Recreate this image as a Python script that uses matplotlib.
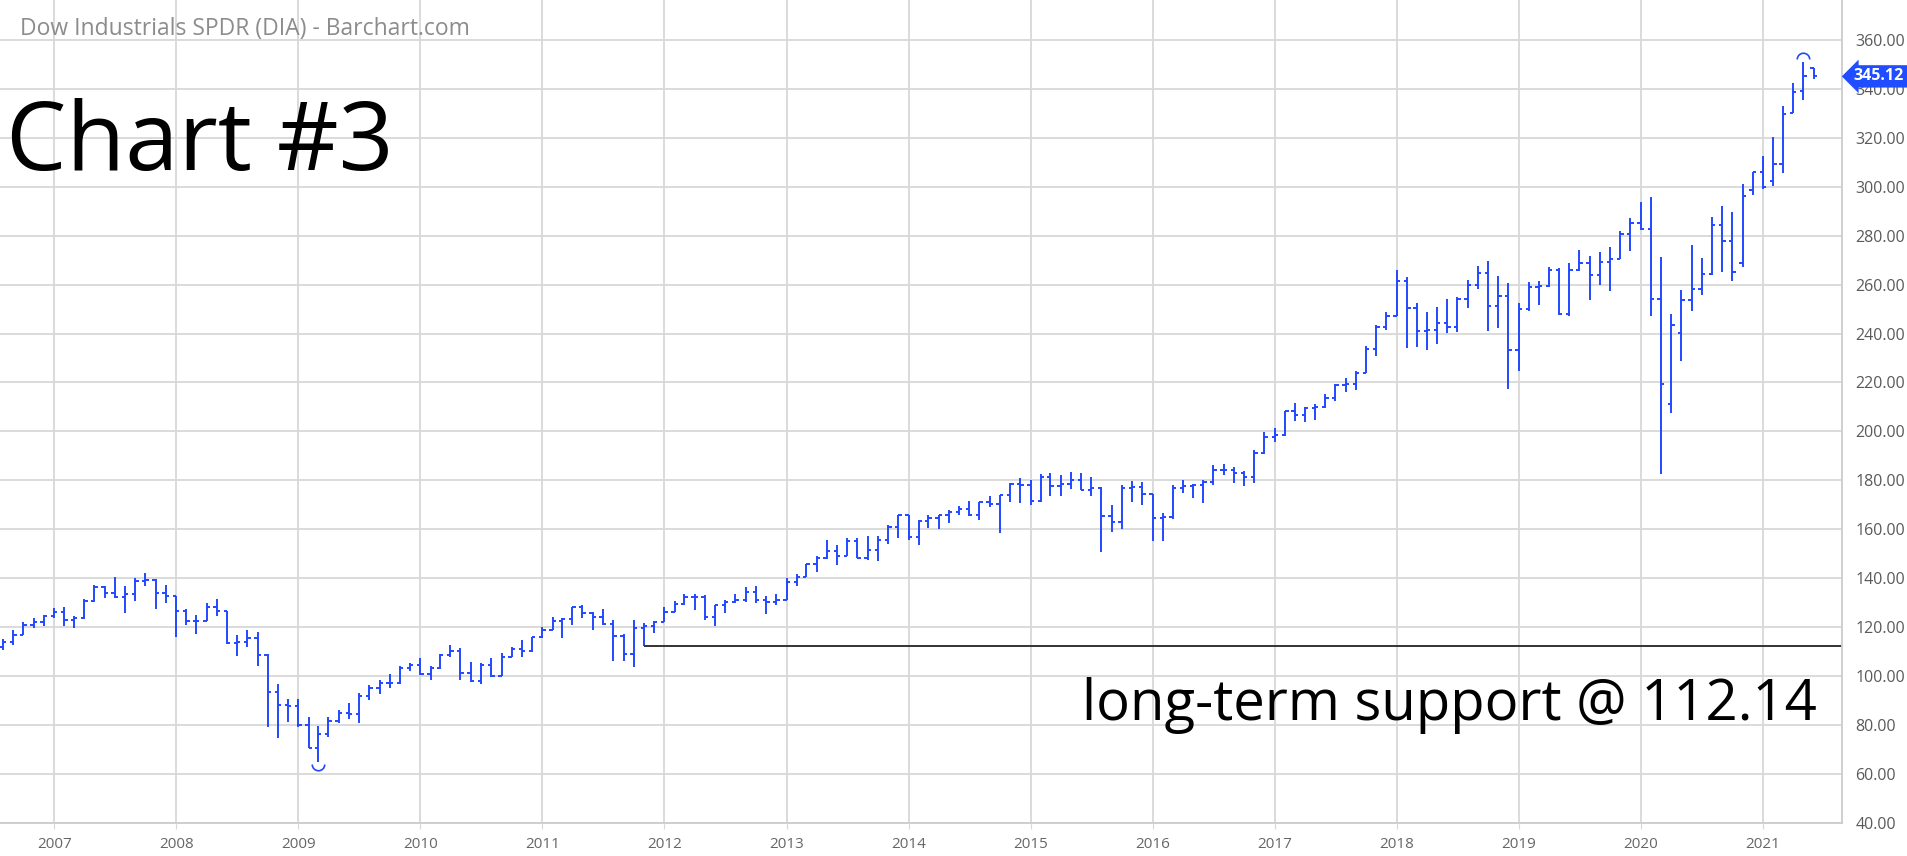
import numpy as np
import pandas as pd
import matplotlib
matplotlib.use("Agg")
import matplotlib.pyplot as plt
import matplotlib.dates as mdates
import matplotlib.transforms as mtransforms
from matplotlib.path import Path

plt.rcParams['font.family'] = ['Open Sans', 'DejaVu Sans']

# monthly bars, Aug 2006 .. Jun 2021
months = pd.date_range('2006-08-01', '2021-06-01', freq='MS')

opens = [
    111.85, 113.81, 116.79, 120.81, 122.21,
    124.63, 126.22, 122.69, 123.54, 130.63, 136.28, 134.09, 132.12, 133.58, 138.96, 139.30, 133.72,
    132.65, 126.50, 122.66, 122.63, 128.20, 126.38, 113.50, 113.78, 115.44, 108.51, 93.25, 88.29,
    87.76, 80.01, 70.63, 76.09, 81.68, 85.00, 84.47, 91.72, 94.96, 97.12, 97.13, 103.45,
    104.28, 100.67, 103.25, 108.57, 110.09, 101.37, 97.74, 104.66, 100.15, 107.88, 111.18, 110.06,
    115.78, 118.92, 122.26, 123.20, 128.11, 125.70, 124.14, 121.43, 116.14, 109.13, 119.55, 120.46,
    122.18, 126.33, 129.52, 132.12, 132.14, 123.93, 128.80, 130.09, 130.91, 134.37, 130.96, 130.26,
    131.04, 138.61, 140.54, 145.79, 148.40, 151.16, 149.10, 155.00, 148.10, 151.30, 155.46, 160.86,
    165.77, 156.99, 163.22, 164.58, 165.81, 167.17, 168.27, 165.63, 170.98, 170.43, 173.91, 178.28,
    178.23, 171.65, 181.33, 177.76, 178.41, 180.11, 176.20, 176.90, 165.28, 162.85, 176.64, 177.20,
    174.25, 164.66, 165.17, 176.85, 177.74, 177.87, 179.30, 184.32, 184.01, 183.08, 181.42, 191.24,
    197.63, 198.64, 208.12, 206.63, 209.41, 210.09, 213.50, 218.91, 219.48, 224.05, 233.77, 242.72,
    247.19, 261.49, 250.29, 241.03, 241.63, 244.16, 242.71, 254.15, 259.65, 264.58, 251.16, 255.38,
    233.27, 249.99, 259.16, 259.29, 265.93, 248.15, 266.00, 268.64, 264.03, 269.17, 270.46, 280.51,
    285.38, 282.56, 254.09, 211.00, 240.10, 253.83, 258.13, 264.28, 284.30, 277.82, 268.70, 298.50,
    306.06, 302.40, 309.50, 330.30, 339.30, 348.70,
]
highs = [
    115.2, 118.7, 122.0, 123.6, 125.1,
    127.7, 128.0, 124.4, 131.6, 137.0, 136.9, 140.6, 136.6, 140.0, 142.0, 139.5, 137.0,
    132.8, 127.5, 124.8, 130.0, 131.4, 126.4, 116.7, 118.8, 118.0, 108.8, 96.7, 90.6,
    90.6, 83.3, 79.5, 83.2, 86.0, 88.8, 92.9, 96.2, 98.3, 100.9, 104.1, 105.2,
    107.3, 104.0, 109.0, 112.6, 111.3, 105.8, 105.4, 107.2, 109.5, 112.0, 114.5, 116.0,
    120.0, 123.9, 123.8, 128.3, 128.8, 126.0, 127.5, 122.9, 117.0, 122.9, 121.8, 122.6,
    128.3, 130.5, 133.3, 133.4, 133.1, 129.0, 131.0, 133.3, 136.5, 136.6, 132.6, 133.5,
    140.2, 141.5, 145.9, 149.0, 155.4, 153.5, 156.6, 156.6, 157.1, 157.1, 161.8, 166.0,
    165.9, 163.9, 165.9, 166.0, 168.0, 169.6, 171.6, 171.2, 173.5, 174.0, 179.0, 180.8,
    180.0, 182.4, 182.9, 182.3, 183.5, 183.0, 181.4, 177.1, 169.8, 177.9, 179.8, 179.2,
    174.3, 166.6, 177.9, 180.0, 178.4, 180.0, 186.1, 186.7, 185.4, 183.9, 192.4, 199.9,
    201.3, 208.2, 211.7, 209.8, 211.0, 215.3, 219.2, 221.8, 224.6, 234.9, 243.3, 248.8,
    265.8, 263.2, 252.6, 248.6, 250.9, 254.0, 254.9, 261.7, 267.7, 269.5, 263.6, 260.5,
    252.3, 261.0, 261.5, 267.0, 266.7, 269.0, 274.1, 271.7, 273.5, 275.2, 282.0, 287.1,
    293.9, 296.0, 271.4, 248.0, 257.8, 276.2, 270.8, 287.5, 292.3, 289.8, 301.1, 306.2,
    312.7, 320.2, 333.0, 342.5, 351.1, 348.7,
]
lows = [
    110.6, 112.8, 116.6, 119.8, 120.5,
    123.8, 120.4, 119.4, 123.2, 130.3, 131.9, 131.7, 125.7, 130.8, 136.7, 127.2, 129.9,
    116.1, 120.7, 117.3, 122.3, 124.4, 113.0, 108.3, 112.0, 104.0, 79.3, 74.5, 81.3,
    79.3, 70.4, 65.0, 75.0, 80.6, 82.2, 80.9, 90.3, 92.5, 94.9, 96.8, 102.2,
    100.3, 98.2, 103.0, 107.6, 98.3, 97.6, 96.9, 99.4, 100.0, 107.6, 107.9, 109.9,
    115.5, 118.9, 115.6, 120.9, 123.8, 118.6, 120.7, 106.2, 106.0, 103.8, 112.14, 117.4,
    122.1, 126.0, 128.9, 127.1, 122.9, 120.4, 125.9, 129.8, 130.3, 129.8, 125.4, 128.8,
    131.0, 136.9, 140.5, 142.6, 147.8, 145.4, 149.0, 148.1, 147.4, 146.9, 154.1, 156.2,
    155.5, 153.7, 160.3, 160.2, 162.7, 166.0, 165.5, 163.7, 169.2, 158.6, 171.2, 170.7,
    170.0, 171.0, 173.5, 173.7, 176.6, 175.9, 173.6, 150.6, 158.8, 160.0, 171.2, 169.8,
    155.1, 155.0, 164.1, 174.8, 172.6, 170.6, 178.2, 182.0, 178.9, 177.6, 178.9, 190.8,
    195.8, 197.9, 204.1, 203.8, 204.7, 209.5, 212.4, 215.9, 217.1, 224.0, 230.8, 241.4,
    247.0, 233.9, 234.6, 233.4, 235.8, 240.1, 240.7, 250.4, 258.0, 241.2, 242.2, 217.2,
    224.8, 249.2, 251.8, 259.0, 247.6, 247.2, 265.5, 253.9, 259.8, 257.5, 270.3, 273.9,
    282.3, 247.2, 182.6, 207.4, 228.8, 249.3, 255.7, 264.0, 265.3, 261.6, 267.0, 296.6,
    299.0, 300.3, 305.8, 330.0, 335.5, 344.1,
]
closes = [
    113.81, 116.79, 120.81, 122.21, 124.63,
    126.22, 122.69, 123.54, 130.63, 136.28, 134.09, 132.12, 133.58, 138.96, 139.30, 133.72, 132.65,
    126.50, 122.66, 122.63, 128.20, 126.38, 113.50, 113.78, 115.44, 108.51, 93.25, 88.29, 87.76,
    80.01, 70.63, 76.09, 81.68, 85.00, 84.47, 91.72, 94.96, 97.12, 97.13, 103.45, 104.28,
    100.67, 103.25, 108.57, 110.09, 101.37, 97.74, 104.66, 100.15, 107.88, 111.18, 110.06, 115.78,
    118.92, 122.26, 123.20, 128.11, 125.70, 124.14, 121.43, 116.14, 109.13, 119.55, 120.46, 122.18,
    126.33, 129.52, 132.12, 132.14, 123.93, 128.80, 130.09, 130.91, 134.37, 130.96, 130.26, 131.04,
    138.61, 140.54, 145.79, 148.40, 151.16, 149.10, 155.00, 148.10, 151.30, 155.46, 160.86, 165.77,
    156.99, 163.22, 164.58, 165.81, 167.17, 168.27, 165.63, 170.98, 170.43, 173.91, 178.28, 178.23,
    171.65, 181.33, 177.76, 178.41, 180.11, 176.20, 176.90, 165.28, 162.85, 176.64, 177.20, 174.25,
    164.66, 165.17, 176.85, 177.74, 177.87, 179.30, 184.32, 184.01, 183.08, 181.42, 191.24, 197.63,
    198.64, 208.12, 206.63, 209.41, 210.09, 213.50, 218.91, 219.48, 224.05, 233.77, 242.72, 247.19,
    261.49, 250.29, 241.03, 241.63, 244.16, 242.71, 254.15, 259.65, 264.58, 251.16, 255.38, 233.27,
    249.99, 259.16, 259.29, 265.93, 248.15, 266.00, 268.64, 264.03, 269.17, 270.46, 280.51, 285.38,
    282.56, 254.09, 219.17, 243.46, 253.83, 258.13, 264.28, 284.30, 277.82, 265.02, 296.39, 306.06,
    299.83, 309.32, 329.82, 338.75, 345.29, 345.12,
]

SUPPORT = 112.14
SUPPORT_START = '2011-11-01'
LAST_PRICE = 345.12
y_ticks = list(range(40, 361, 20))

BAR_COLOR = '#2248ff'
GRID_COLOR = '#d8d8d8'

fig = plt.figure(figsize=(19.07, 8.56), dpi=100)
ax = fig.add_axes([0.0, 0.0389, 0.9657, 0.9611])

x = mdates.date2num(months)
tick_w = 10  # days

ax.vlines(x, lows, highs, color=BAR_COLOR, lw=1.4)
ax.hlines(opens, x - tick_w, x, color=BAR_COLOR, lw=1.4)
ax.hlines(closes, x, x + tick_w, color=BAR_COLOR, lw=1.4)

# high / low markers
i_hi = int(np.argmax(highs))
i_lo = int(np.argmin(lows))
ax.plot(x[i_hi], highs[i_hi] + 1.2, marker=Path.arc(0, 180), ms=9, mfc='none',
        mec=BAR_COLOR, mew=1.2, ls='none')
ax.plot(x[i_lo], lows[i_lo] - 1.2, marker=Path.arc(180, 360), ms=9, mfc='none',
        mec=BAR_COLOR, mew=1.2, ls='none')

xmin = mdates.date2num(pd.Timestamp('2006-07-23'))
xmax = mdates.date2num(pd.Timestamp('2021-08-24'))
ax.set_xlim(xmin, xmax)
ax.set_ylim(40, 376.35)

# long-term support line
ax.hlines(SUPPORT, mdates.date2num(pd.Timestamp(SUPPORT_START)), xmax, color='#333333', lw=1.4)

ax.grid(True, color=GRID_COLOR, lw=1.3)
ax.set_axisbelow(True)
ax.xaxis.set_major_locator(mdates.YearLocator())
ax.xaxis.set_major_formatter(mdates.DateFormatter('%Y'))
ax.yaxis.tick_right()
ax.set_yticks(y_ticks)
ax.set_yticklabels([f'{v:.2f}' for v in y_ticks])
ax.tick_params(axis='y', length=0, pad=10, labelsize=11.5, labelcolor='#5a5a5a')
ax.tick_params(axis='x', length=4, pad=6, labelsize=11, labelcolor='#666666', color=GRID_COLOR)
for s in ['top', 'left']:
    ax.spines[s].set_visible(False)
for s in ['right', 'bottom']:
    ax.spines[s].set_color('#cccccc')
    ax.spines[s].set_linewidth(1.3)

# last price flag
trans = mtransforms.blended_transform_factory(ax.transAxes, ax.transData)
ax.text(1.0067, LAST_PRICE, f'{LAST_PRICE:.2f}', transform=trans, ha='left', va='center',
        color='white', fontsize=11.5, fontweight='bold', clip_on=False, zorder=5,
        bbox=dict(boxstyle='larrow,pad=0.2', fc='#1f4dff', ec='none'))

fig.text(20 / 1907, 1 - 35 / 856, 'Dow Industrials SPDR (DIA) - Barchart.com',
         fontsize=16.5, color='#8c8c8c', ha='left', va='baseline')
fig.text(6 / 1907, 1 - 170 / 856, 'Chart #3', fontsize=69, color='black',
         ha='left', va='baseline')
fig.text(1817 / 1907, 1 - 720 / 856, 'long-term support @ 112.14', fontsize=40.5,
         color='black', ha='right', va='baseline')

fig.savefig('out.png', dpi=100, facecolor='white')
